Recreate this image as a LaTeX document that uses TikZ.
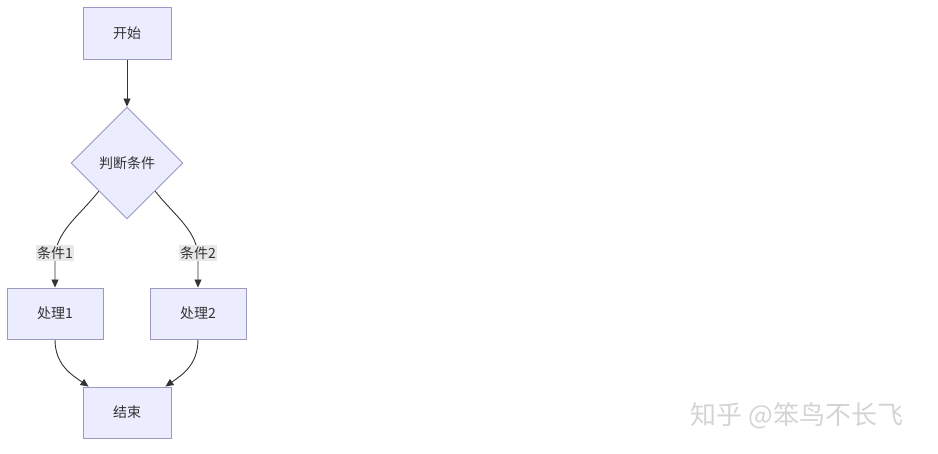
\documentclass[tikz,border=0pt]{standalone}
\usepackage{fontspec}
\setmainfont{Noto Sans CJK SC}
\usetikzlibrary{shapes.geometric,arrows.meta,backgrounds}
\definecolor{boxfill}{HTML}{ECECFF}
\definecolor{boxline}{HTML}{9E97C2}
\definecolor{edgec}{HTML}{333333}
\definecolor{lblfill}{HTML}{E8E8E8}
\definecolor{wm}{HTML}{D4D4D4}
\tikzset{
  procbox/.style={draw=boxline,fill=boxfill,line width=0.9pt,minimum width=88pt,minimum height=52pt,inner sep=0pt,font=\fontsize{14}{16}\selectfont,text=edgec},
  decbox/.style={draw=boxline,fill=boxfill,line width=0.9pt,diamond,minimum width=112pt,minimum height=112pt,inner sep=0pt,font=\fontsize{14}{16}\selectfont,text=edgec},
  lbl/.style={fill=lblfill,inner sep=1.5pt,font=\fontsize{14}{16}\selectfont,text=edgec},
  edge/.style={draw=edgec,line width=0.9pt,-{Triangle[length=8pt,width=7pt]}},
  wmark/.style={font=\fontsize{26}{30}\selectfont,text=wm}
}
\begin{document}
\begin{tikzpicture}[x=1pt,y=-1pt]
\useasboundingbox (0,0) rectangle (938,454);
\node[procbox] (start) at (127,33) {开始};
\node[decbox] (dec) at (127,163) {判断条件};
\node[procbox,minimum width=96pt,minimum height=51pt] (p1) at (55,313.5) {处理1};
\node[procbox,minimum width=96pt,minimum height=51pt] (p2) at (198,313.5) {处理2};
\node[procbox,minimum height=51pt] (fin) at (127,412.5) {结束};
\node[lbl] (l1) at (55,253) {条件1};
\node[lbl] (l2) at (198,253) {条件2};
\coordinate (e1) at ([xshift=6pt]fin.north west);
\coordinate (e2) at ([xshift=-6pt]fin.north east);
\begin{scope}[on background layer]
\draw[edge] (start.south) -- (dec.north);
\draw[edge] (dec.south west) .. controls (80,215) and (60,228) .. (l1.center) -- (p1.north);
\draw[edge] (dec.south east) .. controls (174,215) and (194,228) .. (l2.center) -- (p2.north);
\draw[edge] (p1.south) .. controls (55,365) and (72,375) .. (e1);
\draw[edge] (p2.south) .. controls (198,365) and (182,375) .. (e2);
\end{scope}
\node[wmark] (wmk) at (797,416) {知乎 @笨鸟不长飞};
\end{tikzpicture}
\end{document}
